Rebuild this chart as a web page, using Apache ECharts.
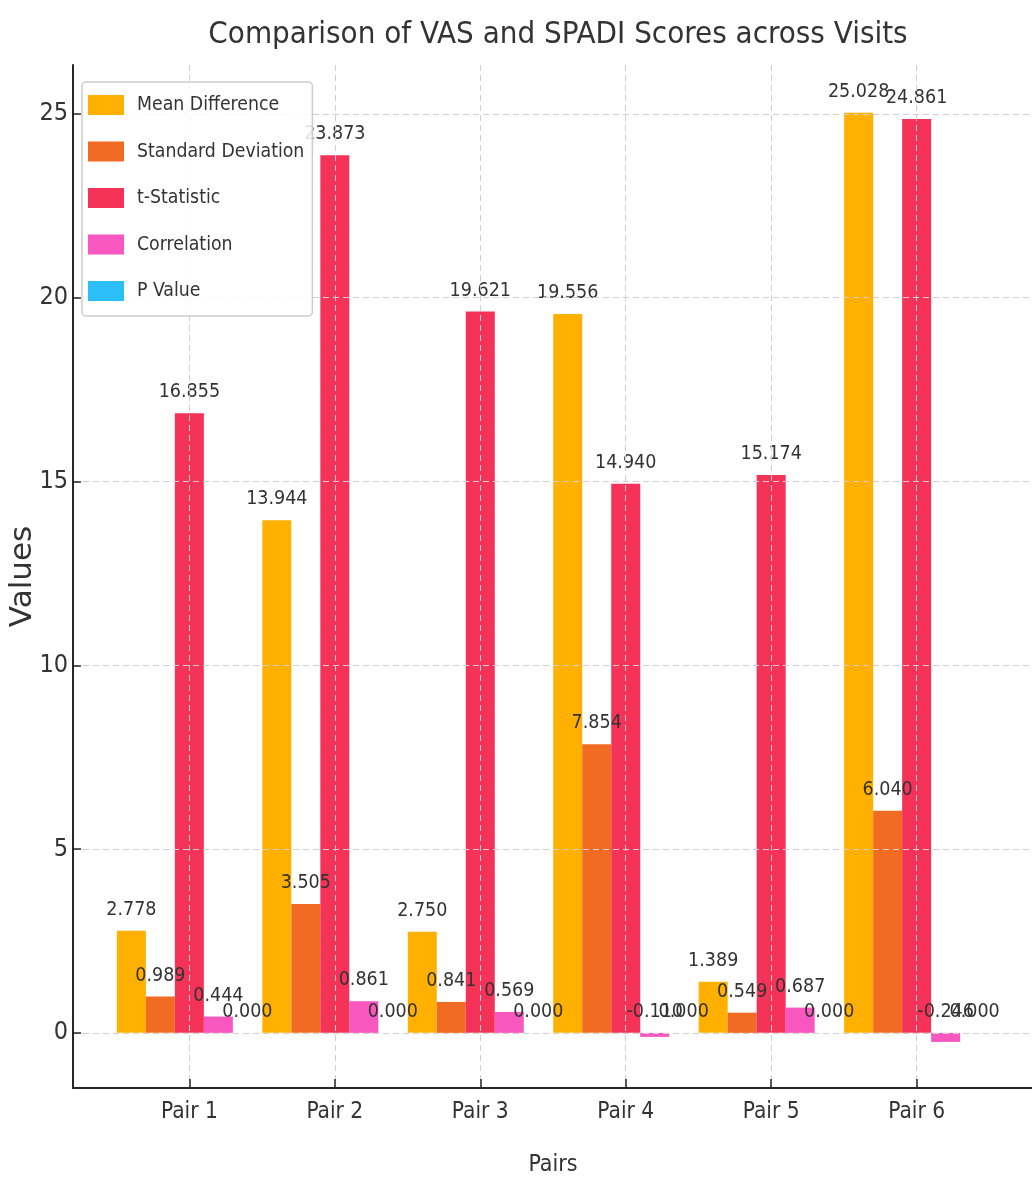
<!DOCTYPE html>
<html>
<head>
<meta charset="utf-8">
<script src="https://cdn.jsdelivr.net/npm/echarts@6/dist/echarts.min.js"></script>
<style>
html,body{margin:0;padding:0;background:#fff;}
#chart{width:1032px;height:1182px;}
</style>
</head>
<body>
<div id="chart"></div>
<script>
const categories = ['Pair 1', 'Pair 2', 'Pair 3', 'Pair 4', 'Pair 5', 'Pair 6'];
const meanDifference = [2.778, 13.944, 2.750, 19.556, 1.389, 25.028];
const standardDeviation = [0.989, 3.505, 0.841, 7.854, 0.549, 6.040];
const tStatistic = [16.855, 23.873, 19.621, 14.940, 15.174, 24.861];
const correlation = [0.444, 0.861, 0.569, -0.110, 0.687, -0.246];
const pValue = [0.000, 0.000, 0.000, 0.000, 0.000, 0.000];
const yTicks = [0, 5, 10, 15, 20, 25];

const seriesNames = ['Mean Difference', 'Standard Deviation', 't-Statistic', 'Correlation', 'P Value'];
const seriesData = [meanDifference, standardDeviation, tStatistic, correlation, pValue];
const colors = ['#FFB000', '#F26B22', '#F53257', '#F857BF', '#2BBEF7'];

const NARROW = "'DejaVu Sans Condensed', 'Liberation Sans Narrow', 'Roboto Condensed', sans-serif";
const TXT = '#333333';

const chart = echarts.init(document.getElementById('chart'), null, {renderer: 'canvas'});

const series = seriesNames.map((name, i) => ({
  name: name,
  type: 'bar',
  z: -1,
  barWidth: 29,
  barGap: '0%',
  itemStyle: {color: colors[i]},
  data: seriesData[i].map((v, j) => [j, v]),
  label: {
    show: true,
    position: 'top',
    distance: 11,
    fontFamily: NARROW,
    fontSize: 19.5,
    color: TXT,
    formatter: p => p.value[1].toFixed(3)
  }
}));

chart.setOption({
  animation: false,
  color: colors,
  title: {
    text: 'Comparison of VAS and SPADI Scores across Visits',
    left: 553,
    top: 14,
    textAlign: 'center',
    textStyle: {fontFamily: NARROW, fontSize: 31, fontWeight: 'normal', color: TXT}
  },
  legend: {
    orient: 'vertical',
    left: 82,
    top: 82,
    padding: [13, 8, 15, 6],
    itemWidth: 36,
    itemHeight: 20,
    itemGap: 26.5,
    backgroundColor: 'rgba(255,255,255,0.85)',
    borderColor: '#cccccc',
    borderWidth: 1.5,
    borderRadius: 4,
    icon: 'rect',
    textStyle: {fontFamily: NARROW, fontSize: 19.3, color: TXT, padding: [0, 0, 0, 8]},
    data: seriesNames
  },
  grid: {left: 73, right: -1, top: 65, bottom: 94, containLabel: false, outerBoundsMode: 'none'},
  xAxis: {
    type: 'value',
    min: -0.8,
    max: 5.8,
    name: 'Pairs',
    nameLocation: 'middle',
    nameGap: 66,
    nameMoveOverlap: false,
    nameTextStyle: {fontFamily: NARROW, fontSize: 23, color: TXT},
    axisLine: {show: true, onZero: false, lineStyle: {color: '#262626', width: 2}},
    axisTick: {show: true, inside: true, length: 9, customValues: [0, 1, 2, 3, 4, 5], lineStyle: {color: '#262626', width: 1.5}},
    axisLabel: {
      customValues: [0, 1, 2, 3, 4, 5],
      margin: 13,
      fontFamily: NARROW, fontSize: 22.5, color: TXT,
      formatter: v => categories[Math.round(v)]
    },
    splitLine: {show: true, lineStyle: {color: '#cfcfcf', type: [6, 4], width: 1}}
  },
  yAxis: {
    type: 'value',
    min: -1.5,
    max: 26.33,
    name: 'Values',
    nameLocation: 'middle',
    nameGap: 35,
    nameMoveOverlap: false,
    nameRotate: 90,
    nameTextStyle: {fontFamily: "'DejaVu Sans', sans-serif", fontSize: 31, color: TXT},
    axisLine: {show: true, onZero: false, lineStyle: {color: '#262626', width: 2}},
    axisTick: {show: true, inside: true, length: 8, customValues: yTicks, lineStyle: {color: '#262626', width: 1.5}},
    axisLabel: {customValues: yTicks, margin: 5, fontFamily: NARROW, fontSize: 25, color: TXT},
    splitLine: {show: true, lineStyle: {color: '#cfcfcf', type: [6, 4], width: 1}}
  },
  series: series
});
</script>
</body>
</html>
